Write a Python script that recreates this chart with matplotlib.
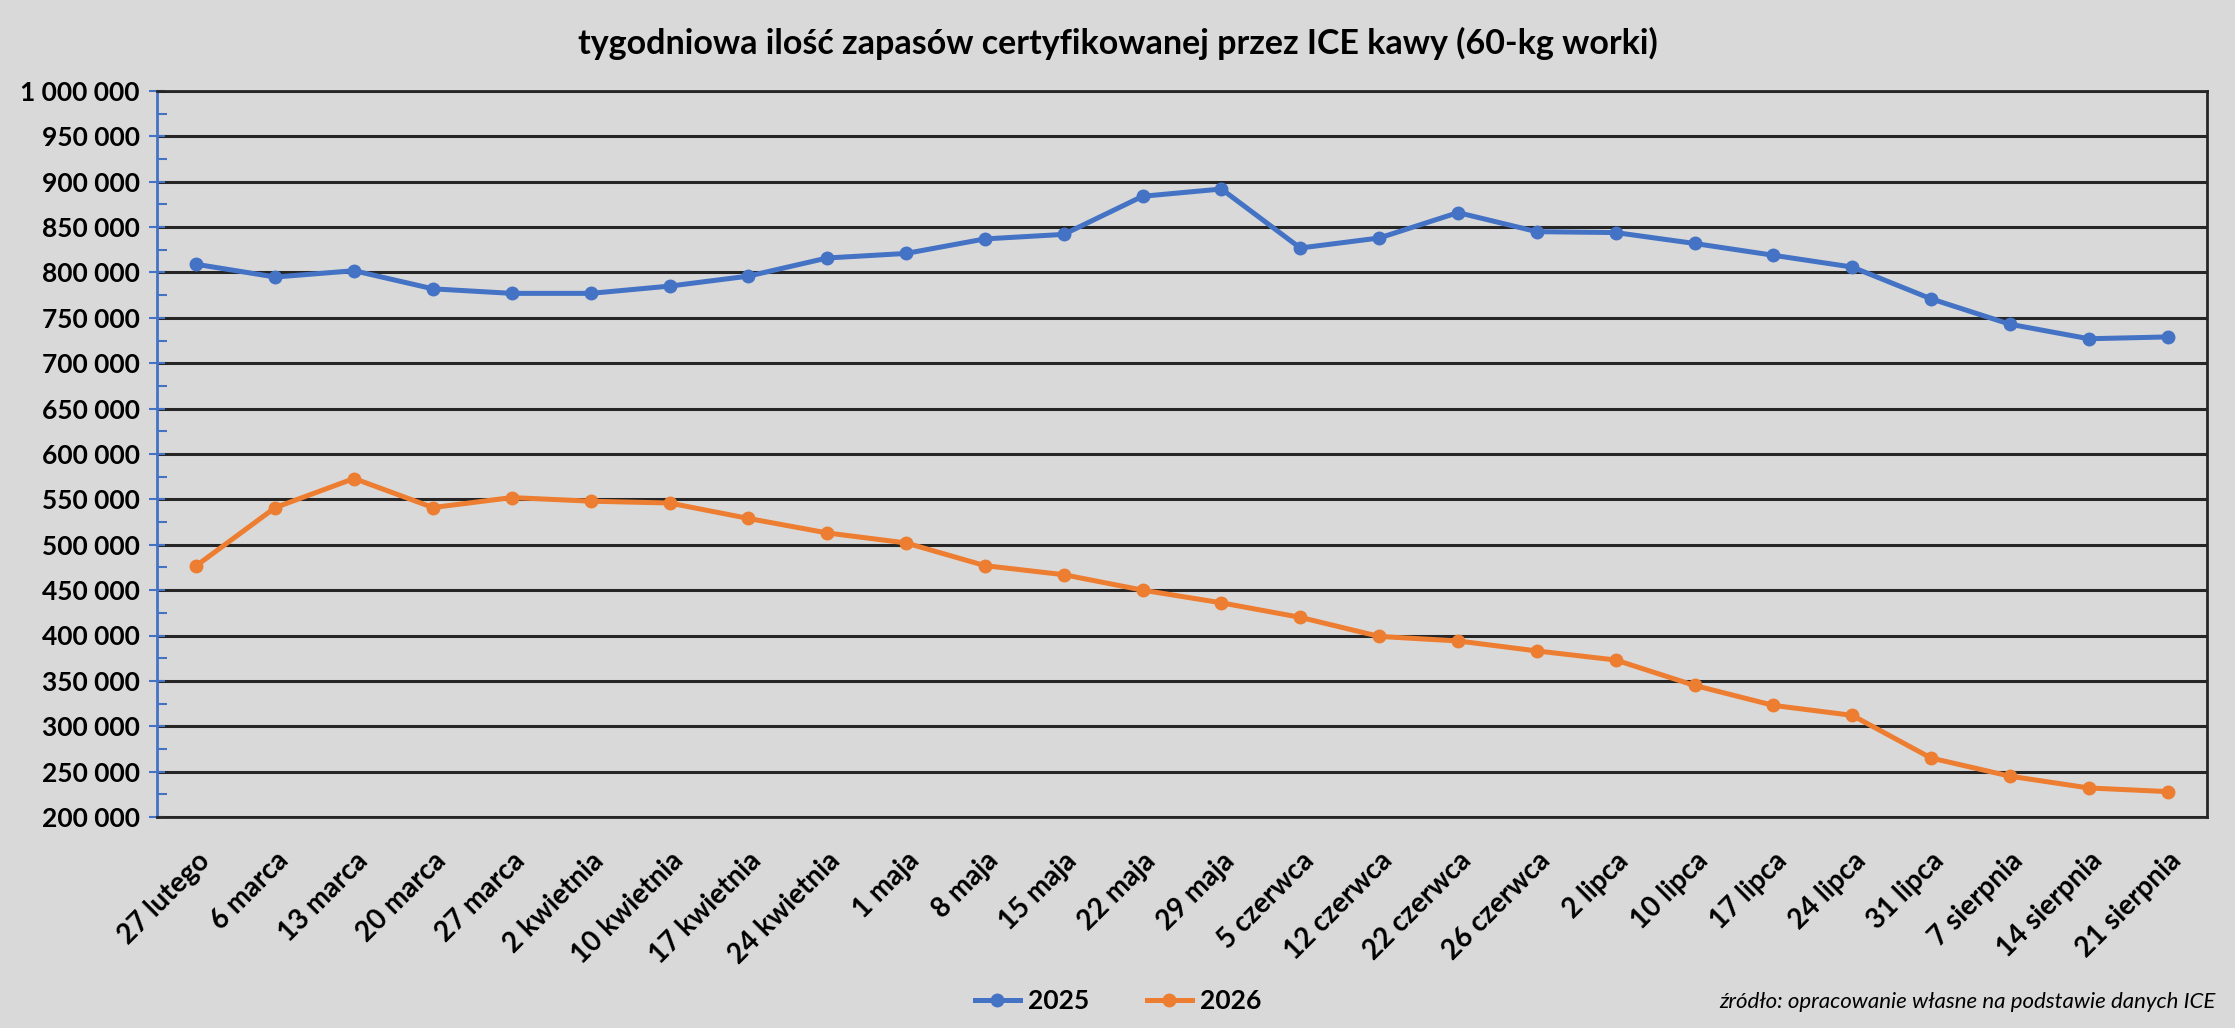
import matplotlib.pyplot as plt
from matplotlib.ticker import FuncFormatter, MultipleLocator

plt.rcParams['font.family'] = ['Lato', 'DejaVu Sans']

# -------------------------------------------------
# Data (weekly ICE certified coffee stocks, 60-kg bags)
# -------------------------------------------------

weeks = [
    "27 lutego", "6 marca", "13 marca", "20 marca", "27 marca",
    "2 kwietnia", "10 kwietnia", "17 kwietnia", "24 kwietnia",
    "1 maja", "8 maja", "15 maja", "22 maja", "29 maja",
    "5 czerwca", "12 czerwca", "22 czerwca", "26 czerwca",
    "2 lipca", "10 lipca", "17 lipca", "24 lipca", "31 lipca",
    "7 sierpnia", "14 sierpnia", "21 sierpnia",
]

stocks_2025 = [
    809000, 795000, 802000, 782000, 777000, 777000, 785000, 796000,
    816000, 821000, 837000, 842000, 884000, 892000, 827000, 838000,
    866000, 845000, 844000, 832000, 819000, 806000, 771000, 743000,
    727000, 729000,
]

stocks_2026 = [
    477000, 541000, 573000, 541000, 552000, 548000, 546000, 529000,
    513000, 502000, 477000, 467000, 450000, 436000, 420000, 399000,
    394000, 383000, 373000, 345000, 323000, 312000, 265000, 245000,
    232000, 228000,
]

bg = "#D9D9D9"
blue = "#4472C4"
orange = "#ED7D31"

fig = plt.figure(figsize=(22.35, 10.28), dpi=100, facecolor=bg)
ax = fig.add_axes([157 / 2235, 1 - 817 / 1028, (2207 - 157) / 2235, (817 - 91) / 1028])
ax.set_facecolor(bg)

x = list(range(len(weeks)))

ax.plot(x, stocks_2025, color=blue, linewidth=3.6, marker="o",
        markersize=9, label="2025", zorder=3)
ax.plot(x, stocks_2026, color=orange, linewidth=3.6, marker="o",
        markersize=9, label="2026", zorder=3)

# -------------------------------------------------
# Axes styling
# -------------------------------------------------

ax.set_xlim(-0.5, len(weeks) - 0.5)
ax.set_ylim(200000, 1000000)

ax.yaxis.set_major_locator(MultipleLocator(50000))
ax.yaxis.set_minor_locator(MultipleLocator(25000))
ax.yaxis.set_major_formatter(
    FuncFormatter(lambda v, p: f"{int(v):,}".replace(",", " "))
)
ax.grid(axis="y", color="#262626", linewidth=2.2, zorder=1)

ax.tick_params(axis="y", which="major", direction="inout", length=11,
               width=1.5, color=blue, labelsize=19, pad=7)
ax.tick_params(axis="y", which="minor", direction="in", length=7,
               width=1.5, color=blue)
for lbl in ax.get_yticklabels():
    lbl.set_fontweight("bold")

ax.set_xticks(x)
ax.set_xticklabels(weeks, rotation=45, ha="right", rotation_mode="anchor",
                   fontsize=20, fontweight="bold")
ax.tick_params(axis="x", length=0, pad=22)

ax.spines["left"].set_color(blue)
ax.spines["left"].set_linewidth(2)
for side in ["right", "top", "bottom"]:
    ax.spines[side].set_color("#262626")
    ax.spines[side].set_linewidth(2)

fig.text(0.5, 1 - 43 / 1028,
         "tygodniowa ilość zapasów certyfikowanej przez ICE kawy (60-kg worki)",
         ha="center", va="center", fontsize=24.5, fontweight="bold")

fig.legend(loc="center", bbox_to_anchor=(1118 / 2235, 1 - 1001 / 1028),
           ncol=2, frameon=False, handlelength=1.7, handletextpad=0.3,
           columnspacing=2.2, prop={"weight": "bold", "size": 19})

fig.text(2216 / 2235, 1 - 1002 / 1028,
         "źródło: opracowanie własne na podstawie danych ICE",
         ha="right", va="center", fontsize=16, fontstyle="italic")

fig.savefig("out.png", dpi=100, facecolor=bg)
plt.close(fig)
